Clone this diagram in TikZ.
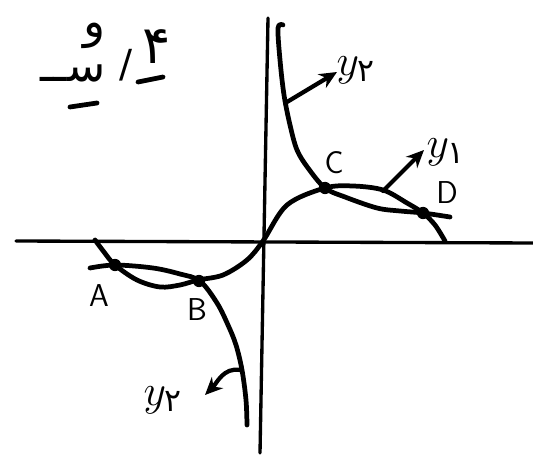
\documentclass[tikz,border=0pt]{standalone}
\usepackage{fontspec}
\usetikzlibrary{arrows.meta}
\newfontfamily\arabicfont[Script=Arabic]{DejaVu Sans}
\TeXXeTstate=1

\begin{document}
\begin{tikzpicture}[x=0.02cm, y=-0.02cm,
		axis/.style={line width=1.9pt, line cap=round},
		curve/.style={line width=2.7pt, line cap=round, line join=round},
		arr/.style={line width=2.4pt, line cap=round, -{Stealth[length=10pt, width=9pt]}},
		knot/.style={circle, fill, inner sep=0pt, minimum size=7pt},
		lbl/.style={font=\fontsize{18}{20}\selectfont\sffamily},
		fn/.style={font=\fontsize{28}{30}\selectfont},
		fa/.style={inner sep=0pt, text height=0.5em, text depth=0.1em}]
	\useasboundingbox (0,0) rectangle (533,455);

	% heading
	\node[inner sep=0pt, align=right, anchor=east, font=\fontsize{26}{28}\selectfont\arabicfont] (head) at (106,53)
		{\beginR و\endR\\[-3pt]\beginR ســ\endR};
	\node[fa, font=\fontsize{22}{24}\selectfont\arabicfont] (slash) at (126,74) {/};
	\node[fa, font=\fontsize{30}{32}\selectfont\arabicfont] (four) at (157,60) {\beginR ۴\endR};
	\draw[curve] (70,107) -- (97,103);
	\draw[curve] (138,82) -- (163,77);

	% axes
	\draw[axis] (16,241) -- (533,243);
	\draw[axis] (268,18) -- (260,453);

	% y1
	\draw[curve] plot[smooth, tension=0.55] coordinates {(95,240) (104,252) (115,265) (137,280)
		(160,287) (180,285) (198,280) (223,275) (247,260) (263,241) (287,205) (325,188)
		(353,186) (383,190) (407,203) (423,213) (435,225) (445,241)};

	% y2
	\draw[curve] plot[smooth, tension=0.55] coordinates {(283,25) (278,28) (280,60) (284,95)
		(290,125) (297,150) (308,168) (325,188) (345,197) (377,208) (400,211) (423,213) (450,217)};
	\draw[curve] plot[smooth, tension=0.55] coordinates {(90,268) (115,265) (153,268) (180,274)
		(200,281) (217,303) (228,325) (236,345) (242,370) (246,400) (247,425)};

	% points
	\node[knot] (A) at (115,265) {};
	\node[knot] (B) at (199,281) {};
	\node[knot] (C) at (325,188) {};
	\node[knot] (D) at (423,213) {};
	\node[lbl] (labA) at (99,296) {A};
	\node[lbl] (labB) at (197,310) {B};
	\node[lbl] (labC) at (334,163) {C};
	\node[lbl] (labD) at (447,193) {D};

	% labels of curves
	\node[fn] (y2up) at (356,70) {$y_{\mbox{\arabicfont\fontsize{18}{20}\selectfont ۲}}$};
	\node[fn] (y1) at (446,152) {$y_{\mbox{\arabicfont\fontsize{18}{20}\selectfont ۱}}$};
	\node[fn] (y2low) at (163,400) {$y_{\mbox{\arabicfont\fontsize{18}{20}\selectfont ۲}}$};

	\coordinate (s2up) at (287,102);
	\coordinate (t2up) at (337,72);
	\coordinate (s1) at (383,191);
	\coordinate (t1) at (424,150);
	\coordinate (s2low) at (240,370);
	\coordinate (t2low) at (205,395);

	\draw[arr] (s2up) -- (t2up);
	\draw[arr] (s1) -- (t1);
	\draw[arr] (s2low) to[out=170, in=45] (t2low);

\end{tikzpicture}
\end{document}
